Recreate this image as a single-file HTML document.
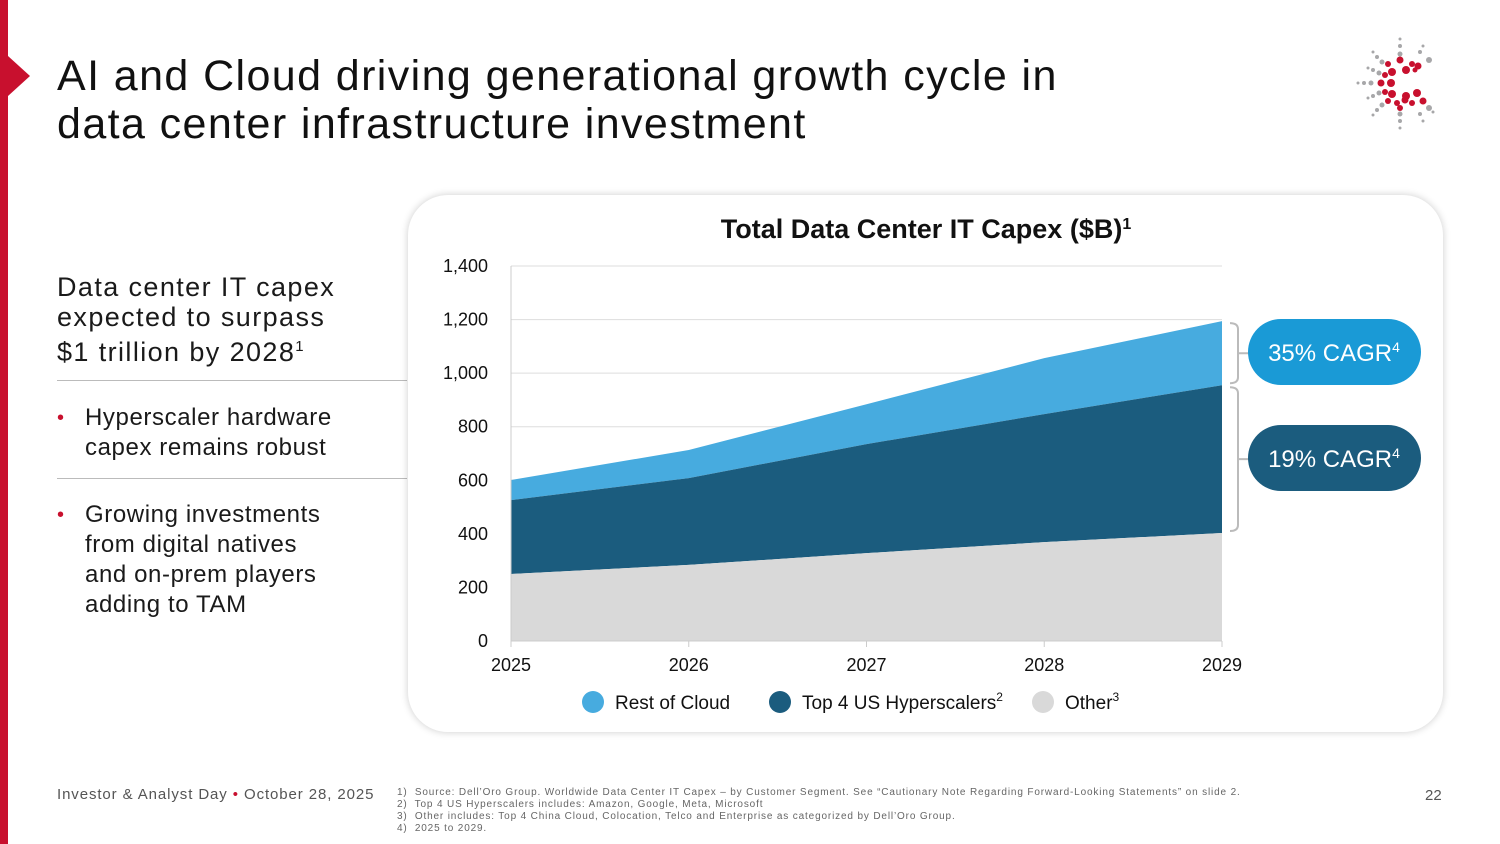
<!DOCTYPE html>
<html><head><meta charset="utf-8"><style>
body{margin:0;width:1500px;height:844px;background:#fff;font-family:"Liberation Sans",sans-serif;position:relative;overflow:hidden;color:#1a1a1a}
.abs{position:absolute}
</style></head><body>
<div class="abs" style="left:0;top:0;width:8px;height:844px;background:#c8102e"></div>
<div class="abs" style="left:8px;top:56px;width:0;height:0;border-top:20px solid transparent;border-bottom:20px solid transparent;border-left:22px solid #c8102e"></div>
<div class="abs" style="left:57px;top:52px;font-size:43px;line-height:48px;color:#111;letter-spacing:1.4px">AI and Cloud driving generational growth cycle in<br>data center infrastructure investment</div>
<svg class="abs" style="left:1345px;top:30px" width="100" height="110" viewBox="0 0 100 110">
<g fill="#a7a7a9"><circle cx="55" cy="9" r="1.5"/><circle cx="55" cy="16" r="2"/><circle cx="55" cy="24" r="2.5"/><circle cx="28" cy="22" r="1.5"/><circle cx="32" cy="27" r="2"/><circle cx="37" cy="32" r="2.5"/><circle cx="78" cy="16" r="1.5"/><circle cx="75" cy="22" r="2"/><circle cx="84" cy="30" r="3"/><circle cx="23" cy="38" r="1.5"/><circle cx="28" cy="40" r="2"/><circle cx="34" cy="43" r="2.5"/><circle cx="13" cy="53" r="1.5"/><circle cx="19" cy="53" r="2"/><circle cx="26" cy="53" r="2.5"/><circle cx="23" cy="68" r="1.5"/><circle cx="28" cy="66" r="2"/><circle cx="34" cy="63" r="2.5"/><circle cx="28" cy="85" r="1.5"/><circle cx="32" cy="80" r="2"/><circle cx="37" cy="75" r="2.5"/><circle cx="55" cy="98" r="1.5"/><circle cx="55" cy="91" r="2"/><circle cx="55" cy="84" r="2.5"/><circle cx="78" cy="91" r="1.5"/><circle cx="75" cy="84" r="2"/><circle cx="84" cy="78" r="3"/><circle cx="88" cy="82" r="1.5"/></g>
<g fill="#c8102e"><circle cx="43" cy="34" r="3"/><circle cx="55" cy="30" r="3.5"/><circle cx="67" cy="34" r="3"/><circle cx="47" cy="42" r="4"/><circle cx="61" cy="40" r="4"/><circle cx="73" cy="36" r="3.5"/><circle cx="40" cy="45" r="3"/><circle cx="36" cy="53" r="3.5"/><circle cx="46" cy="53" r="4"/><circle cx="40" cy="62" r="3"/><circle cx="47" cy="64" r="4"/><circle cx="61" cy="66" r="4"/><circle cx="72" cy="63" r="4"/><circle cx="43" cy="71" r="3"/><circle cx="52" cy="73" r="3"/><circle cx="60" cy="70" r="3.5"/><circle cx="67" cy="73" r="3"/><circle cx="78" cy="71" r="3.5"/><circle cx="55" cy="78" r="3"/><circle cx="70" cy="40" r="2.5"/></g>
</svg>
<div class="abs" style="left:57px;top:272px;font-size:27px;line-height:30px;letter-spacing:1.4px">Data center IT capex<br>expected to surpass<br>$1 trillion by 2028<sup style="font-size:15px">1</sup></div>
<div class="abs" style="left:57px;top:380px;width:350px;height:1px;background:#bbb"></div>
<div class="abs" style="left:57px;top:403px;font-size:24px;line-height:30px;letter-spacing:0.6px"><span style="color:#c8102e;position:absolute;left:0;font-size:20px">•</span><div style="margin-left:28px">Hyperscaler hardware<br>capex remains robust</div></div>
<div class="abs" style="left:57px;top:478px;width:350px;height:1px;background:#bbb"></div>
<div class="abs" style="left:57px;top:500px;font-size:24px;line-height:30px;letter-spacing:0.6px"><span style="color:#c8102e;position:absolute;left:0;font-size:20px">•</span><div style="margin-left:28px">Growing investments<br>from digital natives<br>and on-prem players<br>adding to TAM</div></div>
<div class="abs" style="left:408px;top:195px;width:1035px;height:537px;border-radius:40px;background:#fff;box-shadow:0 0 8px rgba(0,0,0,0.2)"></div>
<svg id="chart" class="abs" style="left:0;top:0" width="1500" height="844"></svg>
<div class="abs" style="left:57px;top:786px;font-size:15px;color:#555;letter-spacing:0.9px">Investor &amp; Analyst Day <span style="color:#c8102e">•</span> October 28, 2025</div>
<div class="abs" style="left:397px;top:787px;font-size:10px;line-height:12px;color:#666;letter-spacing:0.85px">1)&nbsp; Source: Dell’Oro Group. Worldwide Data Center IT Capex – by Customer Segment. See “Cautionary Note Regarding Forward-Looking Statements” on slide 2.<br>2)&nbsp; Top 4 US Hyperscalers includes: Amazon, Google, Meta, Microsoft<br>3)&nbsp; Other includes: Top 4 China Cloud, Colocation, Telco and Enterprise as categorized by Dell’Oro Group.<br>4)&nbsp; 2025 to 2029.</div>
<div class="abs" style="left:1425px;top:787px;font-size:15px;color:#555">22</div>
<script>
const years=["2025","2026","2027","2028","2029"];
const other=[250,284,328,369,403];
const hyper=[276,324,407,478,552];
const rest=[75,105,149,209,239];
const yTicks=[0,200,400,600,800,1000,1200,1400];
const NS="http://www.w3.org/2000/svg";
const svg=document.getElementById('chart');
const x0=511,x1=1222,y0=641,y1=266;
const X=i=>x0+(x1-x0)*i/(years.length-1);
const Y=v=>y0-(y0-y1)*v/1400;
function mk(t,a){const e=document.createElementNS(NS,t);for(const k in a)e.setAttribute(k,a[k]);svg.appendChild(e);return e;}
const t=mk('text',{x:926,y:238,'text-anchor':'middle','font-size':27,'font-weight':'bold',fill:'#111'});

t.innerHTML='Total Data Center IT Capex ($B)<tspan font-size="16" dy="-9">1</tspan>';
yTicks.forEach(v=>{
 const l=mk('line',{x1:x0,x2:x1,y1:Y(v),y2:Y(v),stroke:'#ddd'});
 
 const tx=mk('text',{x:488,y:Y(v)+6,'text-anchor':'end','font-size':18,fill:'#111'});
 
 tx.textContent=v.toLocaleString('en-US');
});
const c1=other,c2=other.map((v,i)=>v+hyper[i]),c3=c2.map((v,i)=>v+rest[i]);
function area(lo,hi,fill,name){
 let d='M'+years.map((_,i)=>X(i)+','+Y(hi[i])).join('L');
 for(let i=years.length-1;i>=0;i--)d+='L'+X(i)+','+Y(lo?lo[i]:0);
 const p=mk('path',{d:d+'Z',fill:fill});
 
}
area(c2,c3,'#47abdf','area-rest-of-cloud');
area(c1,c2,'#1b5c7e','area-top4-hyperscalers');
area(null,c1,'#d9d9d9','area-other');
const ax=mk('line',{x1:x0,x2:x0,y1:y1,y2:y0,stroke:'#ccc'});
const bx=mk('line',{x1:x0,x2:x1,y1:y0,y2:y0,stroke:'#ccc'});
years.forEach((yr,i)=>{
 const tk=mk('line',{x1:X(i),x2:X(i),y1:y0,y2:y0+6,stroke:'#ccc'});
 const tx=mk('text',{x:X(i),y:671,'text-anchor':'middle','font-size':18,fill:'#111'});
 tx.textContent=yr;
});
function bracket(ya,yb,name){
 const p=mk('path',{d:`M1230,${ya+2}Q1238,${ya+2} 1238,${ya+8}L1238,${yb-8}Q1238,${yb-2} 1230,${yb-2}M1238,${(ya+yb)/2}L1250,${(ya+yb)/2}`,fill:'none',stroke:'#bbb','stroke-width':2});
 
}
bracket(Y(c3[4]),Y(c2[4]),'bracket-total');
bracket(Y(c2[4]),Y(c1[4]),'bracket-hyperscalers');
function pill(cy,fill,txt,name){
 const r=mk('rect',{x:1248,y:cy-33,width:173,height:66,rx:33,fill:fill});
 
 const tx=mk('text',{x:1334,y:cy+9,'text-anchor':'middle','font-size':24,fill:'#fff'});
 
 tx.innerHTML=txt+'<tspan font-size="14" dy="-9">4</tspan>';
}
pill(352,'#1a9ad6','35% CAGR','cagr-total-pill');
pill(458,'#1b5c7e','19% CAGR','cagr-hyperscalers-pill');
const leg=[["Rest of Cloud","#47abdf",593,""],["Top 4 US Hyperscalers","#1b5c7e",780,"2"],["Other","#d9d9d9",1043,"3"]];
leg.forEach(l=>{
 const c=mk('circle',{cx:l[2],cy:702,r:11,fill:l[1]});
 const tx=mk('text',{x:l[2]+22,y:709,'font-size':19,fill:'#111'});
 
 tx.innerHTML=l[0]+(l[3]?'<tspan font-size="12" dy="-8">'+l[3]+'</tspan>':'');
});
</script>
</body></html>
